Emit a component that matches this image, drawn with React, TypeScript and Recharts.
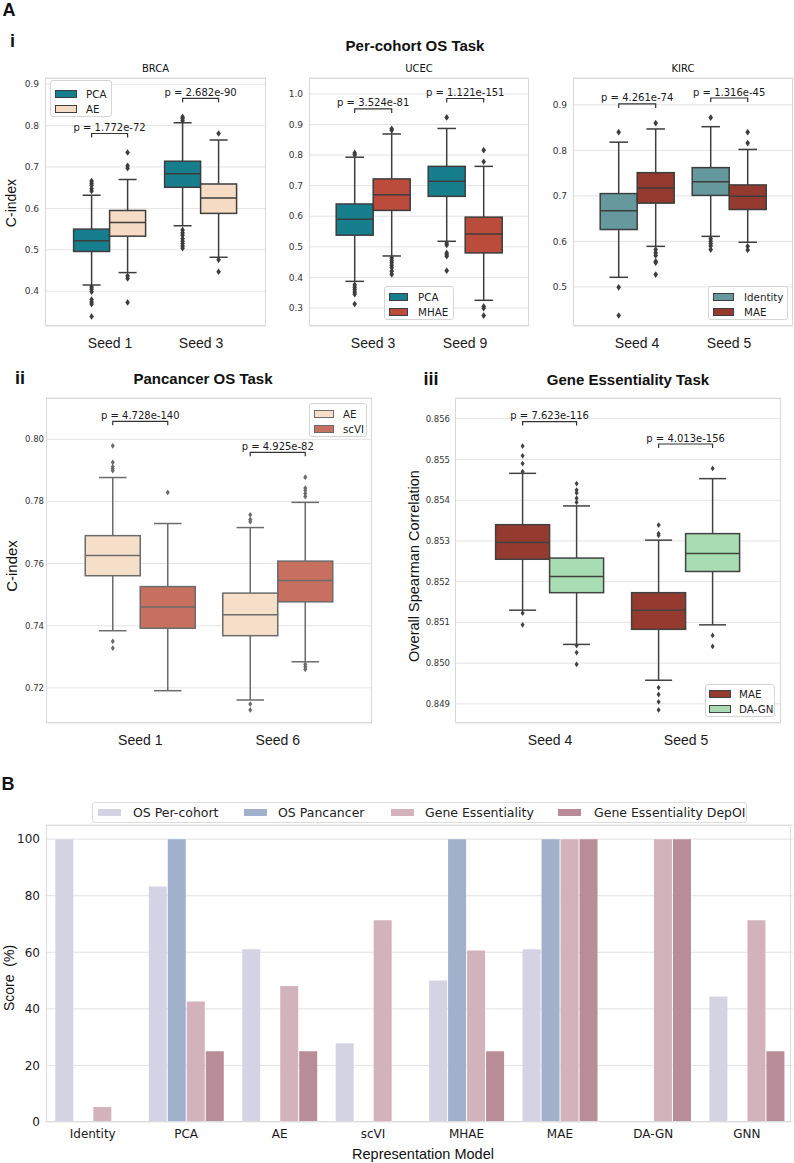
import React from 'react';
import { ComposedChart, BarChart, Bar, XAxis, YAxis, CartesianGrid } from 'recharts';

// ---------------- Panel A-i : BRCA ----------------
// box = [lower whisker, Q1, median, Q3, upper whisker]
const brcaSeeds = ['Seed 1', 'Seed 3'];
const brcaPcaBox = [[0.415, 0.496, 0.522, 0.55, 0.632], [0.558, 0.651, 0.684, 0.714, 0.807]];
const brcaPcaOut = [[0.666, 0.661, 0.656, 0.648, 0.642, 0.41, 0.405, 0.399, 0.38, 0.374, 0.369, 0.339], [0.821, 0.817, 0.812, 0.548, 0.541, 0.535, 0.527, 0.521, 0.515, 0.509, 0.504]];
const brcaAeBox = [[0.445, 0.533, 0.566, 0.595, 0.67], [0.482, 0.588, 0.625, 0.659, 0.765]];
const brcaAeOut = [[0.735, 0.703, 0.697, 0.437, 0.431, 0.373], [0.781, 0.476, 0.447]];
const brcaPText = ['p = 1.772e-72', 'p = 2.682e-90'];
const brcaBracket = [0.781, 0.866];
const brcaTicks = [0.4, 0.5, 0.6, 0.7, 0.8, 0.9];

// ---------------- Panel A-i : UCEC ----------------
const ucecSeeds = ['Seed 3', 'Seed 9'];
const ucecPcaBox = [[0.387, 0.538, 0.59, 0.64, 0.793], [0.518, 0.665, 0.714, 0.763, 0.887]];
const ucecPcaOut = [[0.807, 0.801, 0.376, 0.368, 0.36, 0.352, 0.345, 0.313], [0.923, 0.512, 0.506, 0.48, 0.474, 0.469, 0.422]];
const ucecMhaeBox = [[0.47, 0.619, 0.67, 0.722, 0.869], [0.325, 0.48, 0.542, 0.597, 0.763]];
const ucecMhaeOut = [[0.886, 0.881, 0.463, 0.455, 0.448, 0.44, 0.432, 0.42, 0.41], [0.816, 0.778, 0.305, 0.299, 0.275]];
const ucecPText = ['p = 3.524e-81', 'p = 1.121e-151'];
const ucecBracket = [0.951, 0.985];
const ucecTicks = [0.3, 0.4, 0.5, 0.6, 0.7, 0.8, 0.9, 1.0];

// ---------------- Panel A-i : KIRC ----------------
const kircSeeds = ['Seed 4', 'Seed 5'];
const kircIdBox = [[0.521, 0.626, 0.667, 0.705, 0.818], [0.611, 0.701, 0.731, 0.762, 0.852]];
const kircIdOut = [[0.84, 0.499, 0.437], [0.872, 0.606, 0.6, 0.595, 0.59, 0.582]];
const kircMaeBox = [[0.589, 0.684, 0.717, 0.751, 0.847], [0.598, 0.67, 0.699, 0.724, 0.802]];
const kircMaeOut = [[0.86, 0.582, 0.575, 0.569, 0.556, 0.553, 0.527], [0.84, 0.816, 0.589, 0.581]];
const kircPText = ['p = 4.261e-74', 'p = 1.316e-45'];
const kircBracket = [0.902, 0.915];
const kircTicks = [0.5, 0.6, 0.7, 0.8, 0.9];

// ---------------- Panel A-ii : Pancancer ----------------
const panSeeds = ['Seed 1', 'Seed 6'];
const panAeBox = [[0.7384, 0.7561, 0.7626, 0.769, 0.7877], [0.7161, 0.7368, 0.7435, 0.7505, 0.7716]];
const panAeOut = [[0.7979, 0.7926, 0.7912, 0.7905, 0.7899, 0.735, 0.7328], [0.7757, 0.7742, 0.7735, 0.7148, 0.7129]];
const panScviBox = [[0.7191, 0.7392, 0.746, 0.7526, 0.7729], [0.7284, 0.7477, 0.7546, 0.7608, 0.7797]];
const panScviOut = [[0.7829], [0.7878, 0.7843, 0.7836, 0.7826, 0.7816, 0.7276, 0.7268, 0.726]];
const panPText = ['p = 4.728e-140', 'p = 4.925e-82'];
const panBracket = [0.8058, 0.7958];
const panTicks = [0.72, 0.74, 0.76, 0.78, 0.8];

// ---------------- Panel A-iii : Gene Essentiality ----------------
const geSeeds = ['Seed 4', 'Seed 5'];
const geMaeBox = [[0.8513, 0.85255, 0.85296, 0.8534, 0.85466], [0.84958, 0.85083, 0.8513, 0.85173, 0.85302]];
const geMaeOut = [[0.85533, 0.85509, 0.8549, 0.8547, 0.85123, 0.85094], [0.85339, 0.85318, 0.85314, 0.8494, 0.84923, 0.84905, 0.84885]];
const geDagnBox = [[0.85046, 0.85173, 0.85213, 0.85258, 0.85386], [0.85094, 0.85225, 0.85269, 0.85318, 0.85453]];
const geDagnOut = [[0.85441, 0.85425, 0.85418, 0.85405, 0.85395, 0.85043, 0.85026, 0.84997], [0.85478, 0.85068, 0.85041]];
const gePText = ['p = 7.623e-116', 'p = 4.013e-156'];
const geBracket = [0.85593, 0.85538];
const geTicks = [0.849, 0.85, 0.851, 0.852, 0.853, 0.854, 0.855, 0.856];

// ---------------- Panel B ----------------
const models = ['Identity', 'PCA', 'AE', 'scVI', 'MHAE', 'MAE', 'DA-GN', 'GNN'];
const osPerCohort = [100, 83.3, 61.1, 27.8, 50, 61.1, 0, 44.4];
const osPancancer = [0, 100, 0, 0, 100, 100, 0, 0];
const geneEss = [5.3, 42.6, 48.1, 71.3, 60.6, 100, 100, 71.3];
const geneEssDepOI = [0, 25, 25, 0, 25, 100, 100, 25];
const scoreTicks = [0, 20, 40, 60, 80, 100];
const bSeries = ['OS Per-cohort', 'OS Pancancer', 'Gene Essentiality', 'Gene Essentiality DepOI'];

const C = {
  teal: '#167e8d',
  peach: '#f6dcc4',
  mhae: '#bb4b3a',
  ident: '#65999e',
  mae: '#943a2f',
  pPeach: '#f5dfc9',
  scvi: '#c8705f',
  dagn: '#a8dcb2',
  b1: '#d4d3e3',
  b2: '#a1b0cb',
  b3: '#d2b3bb',
  b4: '#b98d97',
};

const SANS = '"Liberation Sans", Arial, sans-serif';
const DJ = '"DejaVu Sans", sans-serif';

const makeShape = (key: string, fill: string, line: string, lw: number, outR: number, anno: boolean, annoFont: number) => (props: any) => {
  const { x, y, width, height, payload } = props;
  const st = payload && payload[key];
  if (!st || width == null || y == null) return <g />;
  const [lo, q1, med, q3, hi] = st.box;
  const top = Math.min(y, y + height);
  const bot = Math.max(y, y + height);
  const py = (v: number) => bot - ((v - lo) / (hi - lo)) * (bot - top);
  const cx = x + width / 2;
  const cap = width / 4;
  const els: any[] = [];
  els.push(<line key="w1" x1={cx} x2={cx} y1={py(hi)} y2={py(q3)} stroke={line} strokeWidth={lw} />);
  els.push(<line key="w2" x1={cx} x2={cx} y1={py(q1)} y2={py(lo)} stroke={line} strokeWidth={lw} />);
  els.push(<line key="c1" x1={cx - cap} x2={cx + cap} y1={py(hi)} y2={py(hi)} stroke={line} strokeWidth={lw} />);
  els.push(<line key="c2" x1={cx - cap} x2={cx + cap} y1={py(lo)} y2={py(lo)} stroke={line} strokeWidth={lw} />);
  els.push(<rect key="bx" x={x} y={py(q3)} width={width} height={py(q1) - py(q3)} fill={fill} stroke={line} strokeWidth={lw} />);
  els.push(<line key="md" x1={x} x2={x + width} y1={py(med)} y2={py(med)} stroke={line} strokeWidth={lw} />);
  st.out.forEach((v: number, i: number) => {
    const oy = py(v);
    els.push(<path key={'o' + i} d={`M${cx},${oy - outR * 1.45} L${cx + outR},${oy} L${cx},${oy + outR * 1.45} L${cx - outR},${oy} Z`} fill={line} />);
  });
  if (anno) {
    const by = py(payload.br);
    const x2 = cx + width;
    els.push(<path key="br" d={`M${cx},${by + 4} L${cx},${by} L${x2},${by} L${x2},${by + 4}`} fill="none" stroke="#333" strokeWidth={1.2} />);
    els.push(<text key="pt" x={(cx + x2) / 2} y={by - 2.5} textAnchor="middle" fontSize={annoFont} fontFamily={DJ} fill="#1a1a1a">{payload.pt}</text>);
  }
  return <g>{els}</g>;
};

type BPProps = {
  seeds: string[]; boxA: number[][]; outA: number[][]; boxB: number[][]; outB: number[][];
  pText: string[]; bracket: number[]; colorA: string; colorB: string; line: string;
  domain: [number, number]; ticks: number[]; digits: number;
  plotLeft: number; plotTop: number; plotW: number; plotH: number; pad: number;
  yw: number; tickFont: number; yTickGap: number; outR: number;
};

function BoxPanel(p: BPProps) {
  const data = p.seeds.map((s, i) => ({
    seed: s,
    a: { box: p.boxA[i], out: p.outA[i] },
    b: { box: p.boxB[i], out: p.outB[i] },
    aRange: [p.boxA[i][0], p.boxA[i][4]],
    bRange: [p.boxB[i][0], p.boxB[i][4]],
    pt: p.pText[i],
    br: p.bracket[i],
  }));
  const mt = 4, mr = 4, xh = 34;
  const W = p.yw + p.plotW + mr;
  const H = mt + p.plotH + xh;
  return (
    <>
      <div style={{ position: 'absolute', left: p.plotLeft - p.yw, top: p.plotTop - mt }}>
        <ComposedChart width={W} height={H} data={data} margin={{ top: mt, right: mr, left: 0, bottom: 0 }} barCategoryGap="10%" barGap={0}>
          <CartesianGrid vertical={false} stroke="#e3e3e3" strokeWidth={1} />
          <XAxis dataKey="seed" interval={0} padding={{ left: p.pad, right: p.pad }} axisLine={false} tickLine={false} tickSize={0} tickMargin={12} height={xh}
            tick={{ fontSize: 14, fill: '#1a1a1a', fontFamily: SANS }} />
          <YAxis type="number" domain={p.domain} ticks={p.ticks} allowDataOverflow width={p.yw} axisLine={false} tickLine={false} tickSize={0} tickMargin={p.yTickGap}
            tick={{ fontSize: p.tickFont, fill: '#333', fontFamily: DJ }} tickFormatter={(v: number) => v.toFixed(p.digits)} />
          <Bar dataKey="aRange" isAnimationActive={false} shape={makeShape('a', p.colorA, p.line, 1.5, p.outR, true, 10)} />
          <Bar dataKey="bRange" isAnimationActive={false} shape={makeShape('b', p.colorB, p.line, 1.5, p.outR, false, 10)} />
        </ComposedChart>
      </div>
      <div style={{ position: 'absolute', left: p.plotLeft, top: p.plotTop, width: p.plotW, height: p.plotH, border: '1px solid #d9d9d9', boxSizing: 'border-box', pointerEvents: 'none' }} />
    </>
  );
}

function T(props: { x: number; y: number; size: number; bold?: boolean; family?: string; rotate?: boolean; children: any; color?: string }) {
  return (
    <div style={{
      position: 'absolute', left: props.x, top: props.y,
      transform: `translate(-50%,-50%)${props.rotate ? ' rotate(-90deg)' : ''}`,
      fontSize: props.size, fontWeight: props.bold ? 700 : 400, fontFamily: props.family || SANS,
      whiteSpace: 'pre', lineHeight: 1, color: props.color || '#111',
    }}>{props.children}</div>
  );
}

function BoxLegend(props: { left: number; top: number; width: number; height: number; items: { label: string; color: string }[]; swX: number; swW: number; txX: number; rows: number[]; edge: string }) {
  return (
    <div style={{ position: 'absolute', left: props.left, top: props.top, width: props.width, height: props.height, border: '1px solid #d5d5d5', borderRadius: 3, background: 'rgba(255,255,255,0.9)', boxSizing: 'border-box' }}>
      {props.items.map((it, i) => (
        <React.Fragment key={i}>
          <div style={{ position: 'absolute', left: props.swX, top: props.rows[i] - 4, width: props.swW, height: 8, background: it.color, border: `1px solid ${props.edge}`, boxSizing: 'border-box' }} />
          <div style={{ position: 'absolute', left: props.txX, top: props.rows[i], transform: 'translateY(-50%)', fontSize: 10.3, fontFamily: DJ, color: '#222', whiteSpace: 'nowrap', lineHeight: 1 }}>{it.label}</div>
        </React.Fragment>
      ))}
    </div>
  );
}

const bData = models.map((m, i) => ({ model: m, s1: osPerCohort[i], s2: osPancancer[i], s3: geneEss[i], s4: geneEssDepOI[i] }));
const bColors = [C.b1, C.b2, C.b3, C.b4];

export default function App() {
  return (
    <div style={{ position: 'absolute', left: 0, top: 0, width: 794, height: 1163, background: '#fff', overflow: 'hidden' }}>
      {/* headings */}
      <T x={9} y={10} size={18} bold>A</T>
      <T x={12.5} y={41} size={18} bold>i</T>
      <T x={415} y={45} size={15} bold>Per-cohort OS Task</T>
      <T x={155.5} y={69} size={10} family={DJ}>BRCA</T>
      <T x={419} y={69} size={10} family={DJ}>UCEC</T>
      <T x={683} y={69} size={10} family={DJ}>KIRC</T>
      <T x={11} y={203} size={14} rotate>C-index</T>

      <BoxPanel seeds={brcaSeeds} boxA={brcaPcaBox} outA={brcaPcaOut} boxB={brcaAeBox} outB={brcaAeOut} pText={brcaPText} bracket={brcaBracket}
        colorA={C.teal} colorB={C.peach} line="#3d3d3d" domain={[0.316, 0.915]} ticks={brcaTicks} digits={1}
        plotLeft={45} plotTop={78} plotW={221} plotH={248} pad={19.5} yw={45} tickFont={9} yTickGap={6} outR={2.3} />
      <BoxPanel seeds={ucecSeeds} boxA={ucecPcaBox} outA={ucecPcaOut} boxB={ucecMhaeBox} outB={ucecMhaeOut} pText={ucecPText} bracket={ucecBracket}
        colorA={C.teal} colorB={C.mhae} line="#3d3d3d" domain={[0.241, 1.052]} ticks={ucecTicks} digits={1}
        plotLeft={309} plotTop={78} plotW={220} plotH={248} pad={18} yw={45} tickFont={9} yTickGap={6} outR={2.3} />
      <BoxPanel seeds={kircSeeds} boxA={kircIdBox} outA={kircIdOut} boxB={kircMaeBox} outB={kircMaeOut} pText={kircPText} bracket={kircBracket}
        colorA={C.ident} colorB={C.mae} line="#3d3d3d" domain={[0.414, 0.959]} ticks={kircTicks} digits={1}
        plotLeft={573} plotTop={78} plotW={220} plotH={248} pad={18} yw={45} tickFont={9} yTickGap={6} outR={2.3} />

      <BoxLegend left={50} top={80} width={62} height={37} items={[{ label: 'PCA', color: C.teal }, { label: 'AE', color: C.peach }]} swX={4} swW={22} txX={35} rows={[13, 28]} edge="#3d3d3d" />
      <BoxLegend left={384} top={286} width={70} height={34} items={[{ label: 'PCA', color: C.teal }, { label: 'MHAE', color: C.mhae }]} swX={4} swW={19} txX={33} rows={[9.5, 24.5]} edge="#3d3d3d" />
      <BoxLegend left={708} top={286} width={80} height={34} items={[{ label: 'Identity', color: C.ident }, { label: 'MAE', color: C.mae }]} swX={4} swW={21} txX={35} rows={[9.5, 24.5]} edge="#3d3d3d" />

      {/* panel ii */}
      <T x={20} y={378} size={18} bold>ii</T>
      <T x={203} y={378} size={15} bold>Pancancer OS Task</T>
      <T x={11} y={566} size={15} rotate>C-index</T>
      <BoxPanel seeds={panSeeds} boxA={panAeBox} outA={panAeOut} boxB={panScviBox} outB={panScviOut} pText={panPText} bracket={panBracket}
        colorA={C.pPeach} colorB={C.scvi} line="#6b6b6b" domain={[0.7087, 0.8133]} ticks={panTicks} digits={2}
        plotLeft={46} plotTop={398} plotW={326} plotH={325} pad={25.5} yw={46} tickFont={8.5} yTickGap={2} outR={2} />
      <BoxLegend left={309} top={403} width={58} height={34} items={[{ label: 'AE', color: C.pPeach }, { label: 'scVI', color: C.scvi }]} swX={4} swW={20} txX={33} rows={[9.5, 24.5]} edge="#6b6b6b" />

      {/* panel iii */}
      <T x={431} y={379} size={18} bold>iii</T>
      <T x={628} y={379} size={15} bold>Gene Essentiality Task</T>
      <T x={414} y={566} size={14.5} rotate>Overall Spearman Correlation</T>
      <BoxPanel seeds={geSeeds} boxA={geMaeBox} outA={geMaeOut} boxB={geDagnBox} outB={geDagnOut} pText={gePText} bracket={geBracket}
        colorA={C.mae} colorB={C.dagn} line="#424242" domain={[0.84853, 0.85651]} ticks={geTicks} digits={3}
        plotLeft={455} plotTop={398} plotW={326} plotH={325} pad={27} yw={50} tickFont={8.5} yTickGap={5} outR={2} />
      <BoxLegend left={705} top={684} width={70} height={33} items={[{ label: 'MAE', color: C.mae }, { label: 'DA-GN', color: C.dagn }]} swX={3} swW={22} txX={33} rows={[9, 24]} edge="#424242" />

      {/* panel B */}
      <T x={8} y={784} size={18} bold>B</T>
      <div style={{ position: 'absolute', left: 92, top: 802, width: 655, height: 21, border: '1px solid #dcdcdc', borderRadius: 3, boxSizing: 'border-box', background: '#fff' }}>
        {[{ sx: 5, tx: 40 }, { sx: 151, tx: 185 }, { sx: 298, tx: 332 }, { sx: 465, tx: 501 }].map((pos, i) => (
          <React.Fragment key={i}>
            <div style={{ position: 'absolute', left: pos.sx, top: 6, width: 23, height: 7, background: bColors[i] }} />
            <div style={{ position: 'absolute', left: pos.tx, top: 9.5, transform: 'translateY(-50%)', fontSize: 12.5, fontFamily: DJ, color: '#222', whiteSpace: 'nowrap', lineHeight: 1 }}>{bSeries[i]}</div>
          </React.Fragment>
        ))}
      </div>
      <div style={{ position: 'absolute', left: 0, top: 815 }}>
        <BarChart width={794} height={347} data={bData} margin={{ top: 10, right: 0.5, left: 0, bottom: 0 }} barCategoryGap="10%" barGap={1}>
          <CartesianGrid vertical={false} stroke="#e3e3e3" strokeWidth={1} />
          <XAxis dataKey="model" interval={0} axisLine={false} tickLine={false} tickSize={0} tickMargin={7} height={40}
            tick={{ fontSize: 12, fill: '#1a1a1a', fontFamily: DJ }} />
          <YAxis type="number" domain={[0, 105]} ticks={scoreTicks} allowDataOverflow width={46} axisLine={false} tickLine={false} tickSize={0} tickMargin={6}
            tick={{ fontSize: 12, fill: '#1a1a1a', fontFamily: DJ }} />
          <Bar dataKey="s1" name={bSeries[0]} fill={C.b1} isAnimationActive={false} />
          <Bar dataKey="s2" name={bSeries[1]} fill={C.b2} isAnimationActive={false} />
          <Bar dataKey="s3" name={bSeries[2]} fill={C.b3} isAnimationActive={false} />
          <Bar dataKey="s4" name={bSeries[3]} fill={C.b4} isAnimationActive={false} />
        </BarChart>
      </div>
      <div style={{ position: 'absolute', left: 46, top: 825, width: 745, height: 297, border: '1px solid #dcdcdc', boxSizing: 'border-box', pointerEvents: 'none' }} />
      <T x={9} y={978} size={14} rotate>{'Score  (%)'}</T>
      <T x={423} y={1154} size={14.5}>Representation Model</T>
    </div>
  );
}
